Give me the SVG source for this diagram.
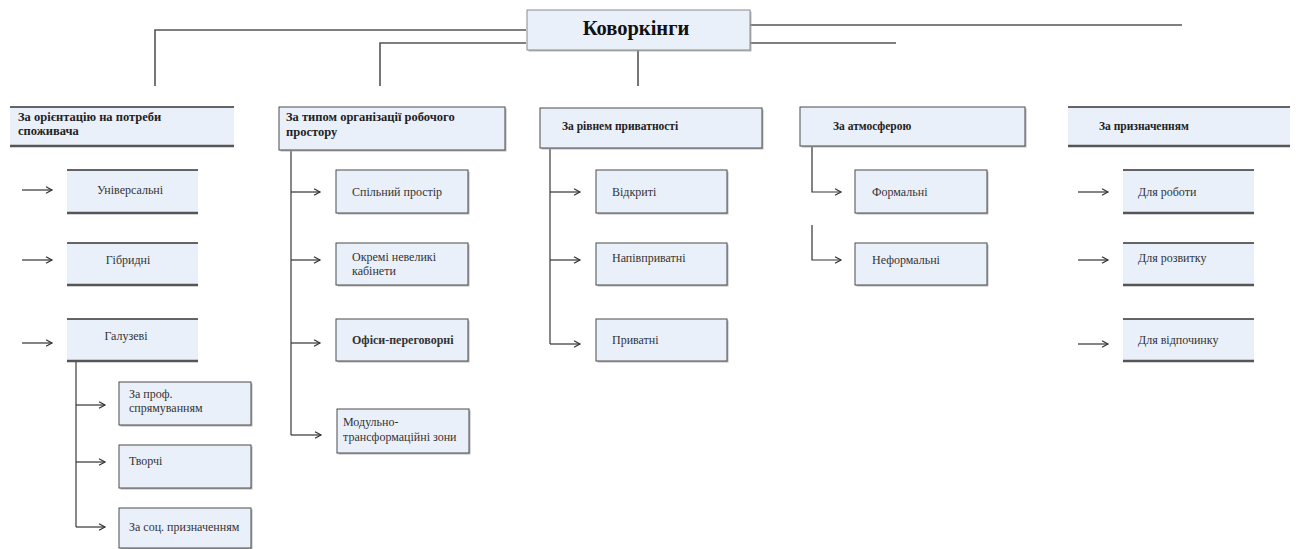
<svg xmlns="http://www.w3.org/2000/svg" width="1299" height="549" viewBox="0 0 1299 549">
<defs>
<marker id="arr" markerUnits="userSpaceOnUse" markerWidth="10" markerHeight="10" refX="7" refY="4" orient="auto">
<path d="M1,0.8 L7,4 L1,7.2" fill="none" stroke="#333" stroke-width="1.2"/>
</marker>
</defs>
<style>
.fill{fill:#eaf0fa}
.full{fill:#eaf0fa;stroke:#4a4a4a;stroke-width:1}
.shadow{fill:#9a9a9a;opacity:0.7}
.tbTop{stroke:#333;stroke-width:1.6}
.tbBot{stroke:#555;stroke-width:2.6}
.conn{fill:none;stroke:#3a3a3a;stroke-width:1.2}
.top{fill:none;stroke:#555;stroke-width:1.6}
.arrow{fill:none;stroke:#333;stroke-width:1.2;marker-end:url(#arr)}
.lbl{font-family:'Liberation Serif','Times New Roman','DejaVu Serif',serif;font-size:12px;fill:#333}
.hdr{font-family:'Liberation Serif','Times New Roman','DejaVu Serif',serif;font-size:11.5px;font-weight:bold;fill:#222}
.hdrL{font-size:12.5px}
.title{font-family:'Liberation Serif','Times New Roman','DejaVu Serif',serif;font-size:20.5px;font-weight:bold;fill:#111}
</style>
<rect width="1299" height="549" fill="#fff"/>

<g id="connectors">
<path class="top" d="M526,30 H155 V86"/>
<path class="top" d="M526,43 H380 V86"/>
<path class="top" d="M638,50 V86"/>
<path class="top" d="M750,25 H1182"/>
<path class="top" d="M750,43 H896"/>
<path class="arrow" d="M22,190 H52"/>
<path class="arrow" d="M22,260 H52"/>
<path class="arrow" d="M22,343 H52"/>
<path class="conn" d="M76,362 V527"/>
<path class="arrow" d="M76,405 H105"/>
<path class="arrow" d="M76,462 H105"/>
<path class="arrow" d="M76,527 H105"/>
<path class="conn" d="M291,151 V435"/>
<path class="arrow" d="M291,192 H320"/>
<path class="arrow" d="M291,260 H320"/>
<path class="arrow" d="M291,343 H320"/>
<path class="arrow" d="M291,435 H321"/>
<path class="conn" d="M550,149 V344"/>
<path class="arrow" d="M550,192 H580"/>
<path class="arrow" d="M550,260 H580"/>
<path class="arrow" d="M550,344 H580"/>
<path class="arrow" d="M812,147 V192 H841"/>
<path class="arrow" d="M812,225 V260 H841"/>
<path class="arrow" d="M1078,192 H1108"/>
<path class="arrow" d="M1078,260 H1108"/>
<path class="arrow" d="M1078,344 H1108"/>
</g>

<g id="root">
<rect class="shadow" x="528.5" y="11.5" width="223" height="40"/>
<rect x="527" y="10" width="223" height="40" fill="#eaf0fa" stroke="#8a8a8a" stroke-width="1"/>
<text class="title" x="636" y="35" text-anchor="middle">Коворкінги</text>
</g>

<g id="cat1">
<rect class="fill" x="10" y="107" width="224" height="39"/>
<line class="tbTop" x1="10" y1="107" x2="234" y2="107"/>
<line class="tbBot" x1="10" y1="146" x2="234" y2="146"/>
<text class="hdr hdrL" x="18" y="121">За орієнтацію на потреби</text>
<text class="hdr hdrL" x="18" y="135">споживача</text>
</g>
<g id="cat2">
<rect class="shadow" x="280.5" y="108.5" width="226" height="43"/>
<rect class="full" x="279" y="107" width="226" height="43"/>
<text class="hdr hdrL" x="286" y="121">За типом організації робочого</text>
<text class="hdr hdrL" x="286" y="136">простору</text>
</g>
<g id="cat3">
<rect class="shadow" x="541.5" y="109.5" width="222" height="40"/>
<rect class="full" x="540" y="108" width="222" height="40"/>
<text class="hdr" x="562" y="130">За рівнем приватності</text>
</g>
<g id="cat4">
<rect class="shadow" x="801.5" y="108.5" width="225" height="39"/>
<rect class="full" x="800" y="107" width="225" height="39"/>
<text class="hdr" x="833" y="130">За атмосферою</text>
</g>
<g id="cat5">
<rect class="fill" x="1068" y="107" width="222" height="39"/>
<line class="tbTop" x1="1068" y1="107" x2="1290" y2="107"/>
<line class="tbBot" x1="1068" y1="146" x2="1290" y2="146"/>
<text class="hdr" x="1099" y="130">За призначенням</text>
</g>

<g id="c1-universal">
<rect class="fill" x="67" y="170" width="131" height="43"/>
<line class="tbTop" x1="67" y1="170" x2="198" y2="170"/>
<line class="tbBot" x1="67" y1="213" x2="198" y2="213"/>
<text class="lbl" x="130" y="194" text-anchor="middle">Універсальні</text>
</g>
<g id="c1-hybrid">
<rect class="fill" x="67" y="243" width="131" height="42"/>
<line class="tbTop" x1="67" y1="243" x2="198" y2="243"/>
<line class="tbBot" x1="67" y1="285" x2="198" y2="285"/>
<text class="lbl" x="128" y="264" text-anchor="middle">Гібридні</text>
</g>
<g id="c1-branch">
<rect class="fill" x="67" y="319" width="131" height="42"/>
<line class="tbTop" x1="67" y1="319" x2="198" y2="319"/>
<line class="tbBot" x1="67" y1="361" x2="198" y2="361"/>
<text class="lbl" x="126" y="340" text-anchor="middle">Галузеві</text>
</g>
<g id="c1-prof">
<rect class="shadow" x="120.5" y="383.5" width="132" height="43"/>
<rect class="full" x="119" y="382" width="132" height="43"/>
<text class="lbl" x="129" y="398">За проф.</text>
<text class="lbl" x="129" y="412">спрямуванням</text>
</g>
<g id="c1-creative">
<rect class="shadow" x="120.5" y="446.5" width="132" height="43"/>
<rect class="full" x="119" y="445" width="132" height="43"/>
<text class="lbl" x="129" y="465">Творчі</text>
</g>
<g id="c1-social">
<rect class="shadow" x="120.5" y="509.5" width="132" height="40"/>
<rect class="full" x="119" y="508" width="132" height="40"/>
<text class="lbl" x="129" y="531">За соц. призначенням</text>
</g>

<g id="c2-shared">
<rect class="shadow" x="337.5" y="171.5" width="132" height="43"/>
<rect class="full" x="336" y="170" width="132" height="43"/>
<text class="lbl" x="352" y="196">Спільний простір</text>
</g>
<g id="c2-cabinets">
<rect class="shadow" x="337.5" y="244.5" width="132" height="42"/>
<rect class="full" x="336" y="243" width="132" height="42"/>
<text class="lbl" x="352" y="261">Окремі невеликі</text>
<text class="lbl" x="352" y="275">кабінети</text>
</g>
<g id="c2-offices">
<rect class="shadow" x="337.5" y="320.5" width="132" height="42"/>
<rect class="full" x="336" y="319" width="132" height="42"/>
<text class="lbl" x="352" y="344" font-weight="bold">Офіси-переговорні</text>
</g>
<g id="c2-modular">
<rect class="shadow" x="338.5" y="410.5" width="132" height="44"/>
<rect class="full" x="337" y="409" width="132" height="44"/>
<text class="lbl" x="343" y="426">Модульно-</text>
<text class="lbl" x="343" y="441">трансформаційні зони</text>
</g>

<g id="c3-open">
<rect class="shadow" x="597.5" y="171.5" width="131" height="43"/>
<rect class="full" x="596" y="170" width="131" height="43"/>
<text class="lbl" x="612" y="196">Відкриті</text>
</g>
<g id="c3-semi">
<rect class="shadow" x="597.5" y="244.5" width="131" height="42"/>
<rect class="full" x="596" y="243" width="131" height="42"/>
<text class="lbl" x="612" y="262">Напівприватні</text>
</g>
<g id="c3-private">
<rect class="shadow" x="597.5" y="320.5" width="131" height="42"/>
<rect class="full" x="596" y="319" width="131" height="42"/>
<text class="lbl" x="612" y="344">Приватні</text>
</g>

<g id="c4-formal">
<rect class="shadow" x="856.5" y="171.5" width="132" height="43"/>
<rect class="full" x="855" y="170" width="132" height="43"/>
<text class="lbl" x="872" y="196">Формальні</text>
</g>
<g id="c4-informal">
<rect class="shadow" x="856.5" y="244.5" width="132" height="42"/>
<rect class="full" x="855" y="243" width="132" height="42"/>
<text class="lbl" x="872" y="264">Неформальні</text>
</g>

<g id="c5-work">
<rect class="fill" x="1123" y="170" width="131" height="43"/>
<line class="tbTop" x1="1123" y1="170" x2="1254" y2="170"/>
<line class="tbBot" x1="1123" y1="213" x2="1254" y2="213"/>
<text class="lbl" x="1138" y="196">Для роботи</text>
</g>
<g id="c5-develop">
<rect class="fill" x="1123" y="243" width="131" height="42"/>
<line class="tbTop" x1="1123" y1="243" x2="1254" y2="243"/>
<line class="tbBot" x1="1123" y1="285" x2="1254" y2="285"/>
<text class="lbl" x="1138" y="262">Для розвитку</text>
</g>
<g id="c5-rest">
<rect class="fill" x="1123" y="319" width="131" height="42"/>
<line class="tbTop" x1="1123" y1="319" x2="1254" y2="319"/>
<line class="tbBot" x1="1123" y1="361" x2="1254" y2="361"/>
<text class="lbl" x="1138" y="344">Для відпочинку</text>
</g>
</svg>
